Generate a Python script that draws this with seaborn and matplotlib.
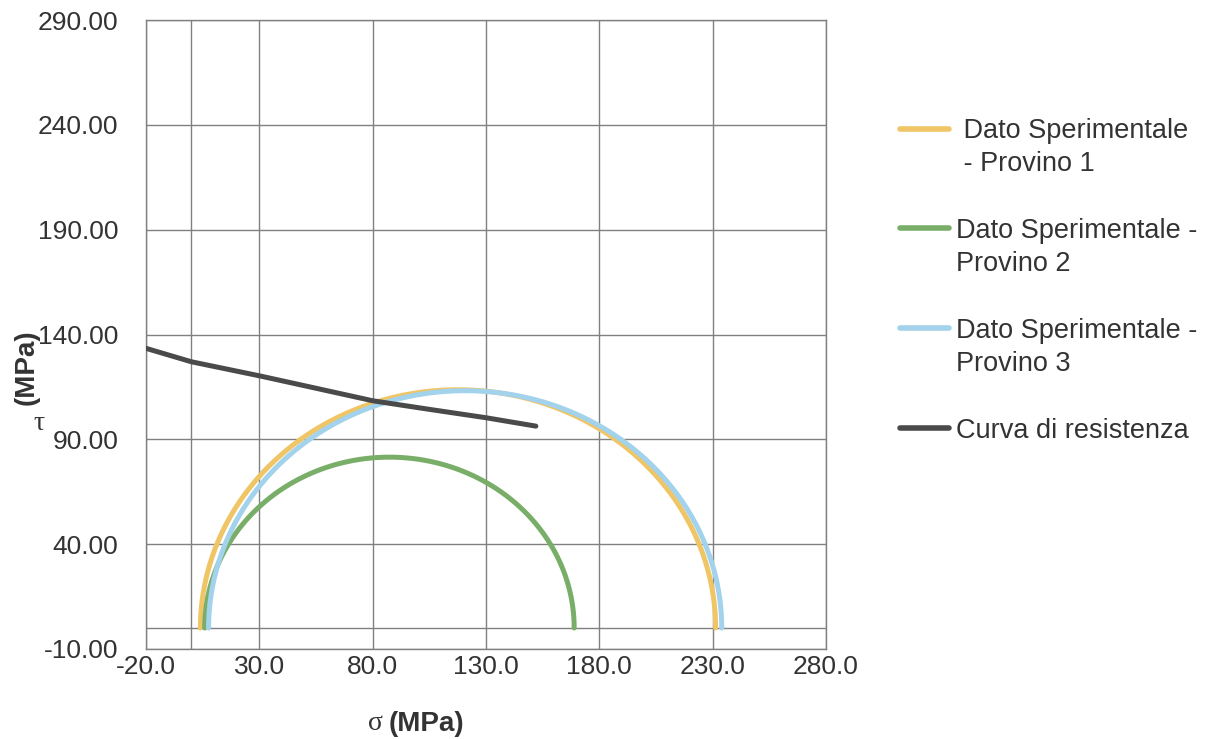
import numpy as np
import pandas as pd
import matplotlib
matplotlib.use("Agg")
import matplotlib.pyplot as plt
import seaborn as sns
from matplotlib.lines import Line2D

# Mohr circles: min / max principal stress per specimen (MPa)
provini = ["Provino 1", "Provino 2", "Provino 3"]
sigma_min = [4.0, 5.9, 7.6]
sigma_max = [231.3, 168.9, 234.0]
colori = ["#EFC566", "#79AE69", "#A2D2EC"]

# resistance curve (sigma, tau) in MPa
curva_sigma = [-20, 0, 30, 54, 80, 105, 130, 152]
curva_tau = [133.4, 127.0, 120.3, 114.6, 108.4, 104.3, 100.3, 96.3]
colore_curva = "#4A4A4A"

# legend text as it appears (two lines for the specimens)
legenda = [
    (" Dato Sperimentale", " - Provino 1"),
    ("Dato Sperimentale -", "Provino 2"),
    ("Dato Sperimentale -", "Provino 3"),
    ("Curva di resistenza", None),
]

x_ticks = np.arange(-20, 281, 50)
y_ticks = np.arange(-10, 291, 50)

sns.set_style("white")
plt.rcParams["font.family"] = ["Liberation Sans", "DejaVu Sans"]

# build semicircles from the read stresses
theta = np.linspace(0, np.pi, 300)
frames = []
for nome, s3, s1 in zip(provini, sigma_min, sigma_max):
    c = (s1 + s3) / 2
    r = (s1 - s3) / 2
    frames.append(pd.DataFrame({"sigma": c + r * np.cos(theta),
                                "tau": r * np.sin(theta),
                                "serie": nome}))
cerchi = pd.concat(frames, ignore_index=True)
curva = pd.DataFrame({"sigma": curva_sigma, "tau": curva_tau})

fig = plt.figure(figsize=(12.1, 7.39), dpi=100)
ax = fig.add_axes([146 / 1210, 1 - 649 / 739, 680 / 1210, 629 / 739])

grid_col = "#808080"
ax.set_xticks(x_ticks)
ax.set_yticks(y_ticks)
ax.grid(True, color=grid_col, linewidth=1)
ax.axhline(0, color=grid_col, linewidth=1, zorder=1)
ax.axvline(0, color=grid_col, linewidth=1, zorder=1)

sns.lineplot(data=cerchi, x="sigma", y="tau", hue="serie", palette=colori,
             sort=False, estimator=None, linewidth=3.6, legend=False, ax=ax,
             zorder=3)
sns.lineplot(data=curva, x="sigma", y="tau", color=colore_curva, sort=False,
             linewidth=3.6, ax=ax, zorder=4)

ax.set_xlim(-20, 280)
ax.set_ylim(-10, 290)
ax.set_xticklabels([f"{v:.1f}" for v in x_ticks])
ax.set_yticklabels([f"{v:.2f}" for v in y_ticks])
ax.tick_params(axis="x", length=0, pad=4, labelsize=19, labelcolor="#333333")
ax.tick_params(axis="y", length=0, pad=20, labelsize=19, labelcolor="#333333")
ax.set_xlabel("")
ax.set_ylabel("")
for spine in ax.spines.values():
    spine.set_color(grid_col)
    spine.set_linewidth(1)

# axis titles
fig.text(383 / 1210, 1 - 724 / 739, "σ", ha="right", va="center", fontsize=20,
         family=["Liberation Serif", "DejaVu Serif"], color="#333333")
fig.text(389 / 1210, 1 - 724 / 739, "(MPa)", ha="left", va="center",
         fontsize=20, fontweight="bold", color="#333333")
fig.text(27 / 1210, 1 - 367 / 739, "(MPa)", ha="center", va="center",
         rotation=90, fontsize=20, fontweight="bold", color="#333333")
fig.text(39 / 1210, 1 - 424 / 739, "τ", ha="center", va="center", fontsize=20,
         family=["Liberation Serif", "DejaVu Serif"], color="#333333")

# legend: handle aligned with the first line of each entry
handles, labels = [], []
for i, (riga1, riga2) in enumerate(legenda):
    col = colori[i] if i < len(colori) else colore_curva
    handles.append(Line2D([], [], color=col, linewidth=4))
    labels.append(riga1)
    if riga2 is not None:
        handles.append(Line2D([], [], color="none"))
        labels.append(riga2)
        handles.append(Line2D([], [], color="none"))
        labels.append(" ")
fig.legend(handles, labels, loc="upper left",
           bbox_to_anchor=(900 / 1210, 1 - 118 / 739),
           frameon=False, borderpad=0, borderaxespad=0, fontsize=19.5,
           handlelength=1.8, handletextpad=0.28, labelspacing=0.27,
           labelcolor="#333333")

fig.savefig("out.png", dpi=100, facecolor="white")
